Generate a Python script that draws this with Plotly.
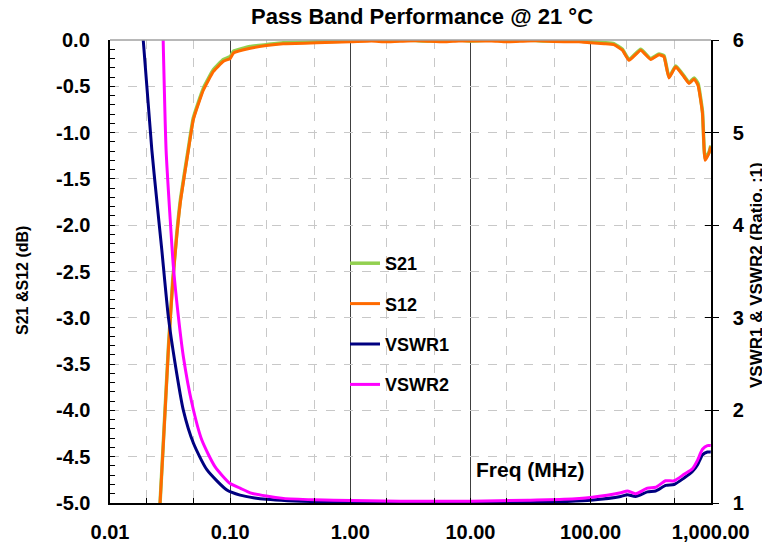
import plotly.graph_objects as go

# ---------------- data ----------------
freq_s = [0.0261, 0.0278, 0.0306, 0.0332, 0.0359, 0.0387, 0.0449, 0.0494, 0.0599, 0.0726,
          0.0880, 0.1000, 0.1067, 0.147, 0.200, 0.276, 0.527, 1.0, 1.5, 2.0, 3.0, 4.0,
          6.0, 8.0, 10.0, 15.0, 20.0, 30.0, 40.0, 60.0, 80.0, 100.0, 130.0, 156.0, 184.0,
          209.0, 261.0, 316.0, 371.0, 408.0, 449.0, 511.0, 600.0, 660.0, 726.0, 784.0,
          853.0, 897.0, 968.0, 1000.0]
s12 = [-5.0, -4.36, -3.35, -2.63, -2.12, -1.73, -1.19, -0.86, -0.54, -0.34,
       -0.23, -0.20, -0.14, -0.09, -0.06, -0.04, -0.03, -0.02, -0.01, -0.02, -0.01, -0.01,
       -0.02, -0.01, -0.01, -0.01, -0.02, -0.01, -0.01, -0.02, -0.02, -0.03, -0.04, -0.05, -0.11,
       -0.22, -0.11, -0.21, -0.16, -0.18, -0.41, -0.29, -0.40, -0.47, -0.42, -0.49,
       -0.79, -1.30, -1.22, -1.15]
s21 = [-5.0, -4.34, -3.33, -2.61, -2.10, -1.71, -1.17, -0.84, -0.52, -0.32,
       -0.21, -0.18, -0.12, -0.07, -0.05, -0.03, -0.02, -0.01, -0.00, -0.01, -0.00, -0.01,
       -0.01, -0.00, -0.01, -0.00, -0.01, -0.00, -0.01, -0.01, -0.01, -0.02, -0.03, -0.04, -0.10,
       -0.21, -0.10, -0.20, -0.15, -0.17, -0.40, -0.28, -0.39, -0.46, -0.41, -0.47,
       -0.77, -1.28, -1.21, -1.14]

freq_v1 = [0.0189, 0.0223, 0.0245, 0.0270, 0.0306, 0.0348, 0.0408, 0.0495, 0.0640, 0.0939,
           0.121, 0.16, 0.20, 0.30, 0.5, 1.0, 3.0, 10.0, 38.0, 60.0, 100.0, 178.0, 202.0, 237.0,
           297.0, 348.0, 422.0, 495.0, 600.0, 704.0, 775.0, 853.0, 938.0, 1000.0]
vswr1 = [6.0, 4.81, 4.27, 3.73, 3.01, 2.51, 2.00, 1.645, 1.36, 1.14,
         1.085, 1.055, 1.04, 1.025, 1.015, 1.005, 1.0, 1.0, 1.005, 1.015, 1.03, 1.07, 1.09, 1.07,
         1.12, 1.13, 1.19, 1.20, 1.27, 1.34, 1.41, 1.52, 1.55, 1.55]

freq_v2 = [0.0277, 0.0293, 0.0316, 0.0337, 0.0371, 0.0408, 0.0480, 0.0581, 0.075, 0.100,
           0.121, 0.147, 0.200, 0.278, 0.50, 0.726, 2.61, 10.0, 30.0, 60.0, 100.0, 178.0, 202.0, 237.0,
           297.0, 348.0, 422.0, 495.0, 600.0, 704.0, 775.0, 853.0, 938.0, 1000.0]
vswr2 = [6.0, 4.81, 4.09, 3.55, 3.01, 2.58, 2.08, 1.68, 1.39, 1.21,
         1.16, 1.11, 1.075, 1.05, 1.035, 1.03, 1.02, 1.02, 1.03, 1.04, 1.06, 1.11, 1.13, 1.10,
         1.16, 1.17, 1.24, 1.24, 1.31, 1.37, 1.46, 1.58, 1.62, 1.62]

x_tickvals = [0.01, 0.1, 1, 10, 100, 1000]
x_ticktext = ["0.01", "0.10", "1.00", "10.00", "100.00", "1,000.00"]
y_tickvals = [0.0, -0.5, -1.0, -1.5, -2.0, -2.5, -3.0, -3.5, -4.0, -4.5, -5.0]
y_ticktext = ["0.0", "-0.5", "-1.0", "-1.5", "-2.0", "-2.5", "-3.0", "-3.5", "-4.0", "-4.5", "-5.0"]
y2_tickvals = [1, 2, 3, 4, 5, 6]
y2_ticktext = ["1", "2", "3", "4", "5", "6"]

FONT = "Liberation Sans, Arial, sans-serif"
TICKFONT = dict(size=20, family=FONT, color="black")

# the page body has an 8 px margin, so the figure is 8 px smaller and offset
OFF = 8
W, H = 770 - OFF, 544 - OFF
L, T, R, B = 110 - OFF, 40 - OFF, 59, 41
PW, PH = W - L - R, H - T - B


def bold(items):
    return ["<b>%s</b>" % t for t in items]


def px_x(x):  # reference pixel -> paper x
    return (x - OFF - L) / PW


def px_y(y):  # reference pixel -> paper y
    return 1 - (y - OFF - T) / PH


fig = go.Figure()
fig.add_trace(go.Scatter(x=freq_s, y=s21, name="<b>S21</b>", mode="lines", legendgroup="a",
                         line=dict(color="#92D050", width=3.5, shape="spline", smoothing=0.4)))
fig.add_trace(go.Scatter(x=freq_s, y=s12, name="<b>S12</b>", mode="lines", legendgroup="b",
                         line=dict(color="#FF6A00", width=3, shape="spline", smoothing=0.4)))
fig.add_trace(go.Scatter(x=freq_v1, y=vswr1, name="<b>VSWR1</b>", mode="lines", yaxis="y2", legendgroup="c",
                         line=dict(color="#000080", width=3, shape="spline", smoothing=0.6)))
fig.add_trace(go.Scatter(x=freq_v2, y=vswr2, name="<b>VSWR2</b>", mode="lines", yaxis="y2", legendgroup="d",
                         line=dict(color="#FF00FF", width=3, shape="spline", smoothing=0.6)))

fig.update_layout(
    width=W, height=H,
    margin=dict(l=L, r=R, t=T, b=B, pad=0, autoexpand=False),
    paper_bgcolor="white", plot_bgcolor="white",
    font=dict(family=FONT, color="black"),
    title=dict(text="<b>Pass Band Performance @ 21 °C</b>", x=(422 - OFF) / W, xanchor="center",
               y=1 - (16.5 - OFF) / H, yanchor="middle", font=dict(size=22, family=FONT, color="black")),
    showlegend=True,
    legend=dict(x=px_x(345), y=px_y(245), xanchor="left", yanchor="top",
                bgcolor="rgba(0,0,0,0)", tracegroupgap=14,
                font=dict(size=18, family=FONT, color="black")),
    xaxis=dict(type="log", range=[-2, 3.002], tickvals=x_tickvals, ticktext=bold(x_ticktext),
               tickfont=TICKFONT, automargin=False, ticklabelstandoff=10,
               showline=True, linecolor="black", linewidth=1.5,
               ticks="inside", ticklen=5, tickcolor="black",
               showgrid=True, gridcolor="#404040", gridwidth=1,
               minor=dict(ticks="inside", ticklen=5, tickcolor="black", showgrid=True,
                          gridcolor="#C8C8C8", griddash="dash", gridwidth=1),
               zeroline=False),
    yaxis=dict(range=[-5, 0], tickvals=y_tickvals, showticklabels=False,
               automargin=False,
               showline=True, linecolor="black", linewidth=1.5,
               ticks="inside", ticklen=5, tickcolor="black",
               showgrid=True, gridcolor="#C8C8C8", griddash="dash", gridwidth=1,
               minor=dict(dtick=0.1, ticks="inside", ticklen=5, tickcolor="black", showgrid=False),
               zeroline=False),
    yaxis2=dict(range=[1, 6], overlaying="y", side="right", tickvals=y2_tickvals,
                ticktext=bold(y2_ticktext), tickfont=TICKFONT, automargin=False,
                ticklabelstandoff=10,
                showline=True, linecolor="black", linewidth=1.5,
                ticks="outside", ticklen=6, tickcolor="black",
                showgrid=False, zeroline=False),
    yaxis3=dict(range=[1, 6], overlaying="y", side="right", tickvals=y2_tickvals,
                showticklabels=False, ticks="inside", ticklen=6, tickcolor="black", automargin=False,
                showline=False, showgrid=False, zeroline=False),
)

# left-axis tick labels, placed on the y scale and held clear of the axis line
for v, t in zip(y_tickvals, y_ticktext):
    fig.add_annotation(text="<b>%s</b>" % t, xref="paper", yref="y", x=0, y=v,
                       xshift=-18, xanchor="right", yanchor="middle", showarrow=False,
                       font=TICKFONT)

# top frame line
fig.add_shape(type="line", xref="paper", yref="paper", x0=0, x1=1, y0=1, y1=1,
              line=dict(color="#A0A0A0", width=1.5))

fig.add_annotation(text="<b>Freq (MHz)</b>", xref="paper", yref="paper",
                   x=px_x(530), y=px_y(469), xanchor="center", yanchor="middle",
                   showarrow=False, font=dict(size=21, family=FONT, color="black"))
fig.add_annotation(text="<b>S21 &S12 (dB)</b>", xref="paper", yref="paper",
                   x=px_x(22), y=px_y(281), xanchor="center", yanchor="middle",
                   textangle=-90, showarrow=False, font=dict(size=16, family=FONT, color="black"))
fig.add_annotation(text="<b>VSWR1 &amp; VSWR2 (Ratio, :1)</b>", xref="paper", yref="paper",
                   x=px_x(756), y=px_y(275), xanchor="center", yanchor="middle",
                   textangle=-90, showarrow=False, font=dict(size=17, family=FONT, color="black"))

# dummy trace to activate yaxis3 ticks
fig.add_trace(go.Scatter(x=[1], y=[None], yaxis="y3", showlegend=False, hoverinfo="skip"))

fig.write_html("out.html")
